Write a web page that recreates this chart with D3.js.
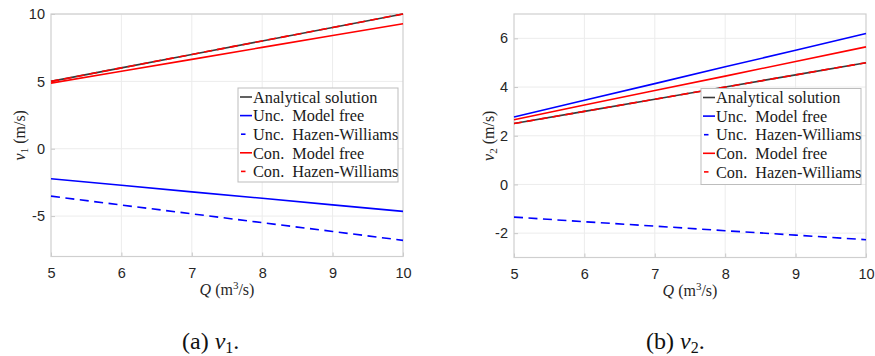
<!DOCTYPE html>
<html><head><meta charset="utf-8">
<script src="https://cdn.jsdelivr.net/npm/d3@7"></script>
<style>
html,body{margin:0;padding:0;background:#fff;}
svg{display:block;}
text{white-space:pre;}
</style></head>
<body>
<svg id="c" width="875" height="356"></svg>
<script>
// ---- data ----
const Q = [5, 6, 7, 8, 9, 10];
const seriesNames = ["Analytical solution", "Unc.  Model free", "Unc.  Hazen-Williams", "Con.  Model free", "Con.  Hazen-Williams"];
const v1Analytical   = [5, 6, 7, 8, 9, 10];
const v1UncModelFree = [-2.23, -2.71, -3.2, -3.68, -4.17, -4.65];
const v1UncHazen     = [-3.52, -4.18, -4.83, -5.49, -6.14, -6.8];
const v1ConModelFree = [4.87, 5.75, 6.63, 7.52, 8.4, 9.28];
const v1ConHazen     = [5, 6, 7, 8, 9, 10];
const v2Analytical   = [2.5, 3, 3.5, 4, 4.5, 5];
const v2UncModelFree = [2.77, 3.46, 4.14, 4.83, 5.51, 6.2];
const v2UncHazen     = [-1.34, -1.53, -1.71, -1.9, -2.08, -2.27];
const v2ConModelFree = [2.66, 3.26, 3.86, 4.45, 5.05, 5.65];
const v2ConHazen     = [2.5, 3, 3.5, 4, 4.5, 5];
const xTicks = [5, 6, 7, 8, 9, 10];
const v1Ticks = [-5, 0, 5, 10];
const v2Ticks = [-2, 0, 2, 4, 6];
const v1Domain = [-8, 10];
const v2Domain = [-3, 7];
const captions = ["(a)", "(b)"];

// ---- styles ----
const styles = [
  {color: "#3a3a3a", dash: null},
  {color: "#0000ff", dash: null},
  {color: "#0000ff", dash: "9,5.5"},
  {color: "#ff0000", dash: null},
  {color: "#ff0000", dash: "8,5"}
];

const svg = d3.select("#c");
const serif = "'Liberation Serif', 'Times New Roman', serif";
const sans = "'Liberation Sans', Arial, sans-serif";

function panel(opt) {
  const {x0, x1, y0, y1, domain, ticks, data, sub, legend, ylabX, caption, capX} = opt;
  const x = d3.scaleLinear().domain([5, 10]).range([x0, x1]);
  const y = d3.scaleLinear().domain(domain).range([y1, y0]);
  const g = svg.append("g");

  // grid
  g.append("g").selectAll("line").data(xTicks.slice(1, -1)).join("line")
    .attr("x1", d => x(d)).attr("x2", d => x(d)).attr("y1", y0).attr("y2", y1)
    .attr("stroke", "#ececec").attr("stroke-width", 1);
  g.append("g").selectAll("line").data(ticks).join("line")
    .attr("x1", x0).attr("x2", x1).attr("y1", d => y(d)).attr("y2", d => y(d))
    .attr("stroke", "#ececec").attr("stroke-width", 1);

  // axes via d3 axis
  const fmt = d => String(d);
  const xAxis = d3.axisBottom(x).tickValues(xTicks).tickFormat(fmt).tickSize(-4).tickPadding(11);
  const yAxis = d3.axisLeft(y).tickValues(ticks).tickFormat(fmt).tickSize(-4).tickPadding(6);
  const gx = g.append("g").attr("transform", `translate(0,${y1})`).call(xAxis);
  const gy = g.append("g").attr("transform", `translate(${x0},0)`).call(yAxis);
  [gx, gy].forEach(a => {
    a.select(".domain").remove();
    a.selectAll(".tick line").attr("stroke", "#c8c8c8");
    a.selectAll(".tick text").attr("fill", "#262626").style("font-family", sans).style("font-size", "14.5px");
  });
  // box
  g.append("rect").attr("x", x0).attr("y", y0).attr("width", x1 - x0).attr("height", y1 - y0)
    .attr("fill", "none").attr("stroke", "#cfcfcf").attr("stroke-width", 1.2);

  // lines
  const line = d3.line().x((d, i) => x(Q[i])).y(d => y(d));
  data.forEach((arr, k) => {
    g.append("path").datum(arr).attr("d", line)
      .attr("fill", "none").attr("stroke", styles[k].color).attr("stroke-width", 1.6)
      .attr("stroke-dasharray", styles[k].dash);
  });

  // legend
  const lg = g.append("g").attr("transform", `translate(${legend.x},${legend.y})`);
  lg.append("rect").attr("width", legend.w).attr("height", legend.h)
    .attr("fill", "#fff").attr("stroke", "#bdbdbd").attr("stroke-width", 1);
  seriesNames.forEach((name, k) => {
    const ry = 9 + k * 18.6;
    if (styles[k].dash) {
      lg.append("line").attr("x1", 3).attr("x2", 7.5).attr("y1", ry).attr("y2", ry)
        .attr("stroke", styles[k].color).attr("stroke-width", 1.6);
    } else {
      lg.append("line").attr("x1", 2).attr("x2", 14).attr("y1", ry).attr("y2", ry)
        .attr("stroke", styles[k].color).attr("stroke-width", 1.6);
    }
    lg.append("text").attr("x", 15).attr("y", ry).attr("dy", "0.35em")
      .style("font-family", serif).style("font-size", "16.3px").attr("fill", "#1a1a1a").text(name);
  });

  // x label
  const xl = g.append("text").attr("x", (x0 + x1) / 2).attr("y", y1 + 38)
    .attr("text-anchor", "middle").style("font-family", serif).style("font-size", "16px").attr("fill", "#262626");
  xl.append("tspan").style("font-style", "italic").text("Q");
  xl.append("tspan").text(" (m");
  xl.append("tspan").attr("dy", -6).style("font-size", "11px").text("3");
  xl.append("tspan").attr("dy", 6).text("/s)");

  // y label
  const yl = g.append("text").attr("transform", `translate(${ylabX},${(y0 + y1) / 2}) rotate(-90)`)
    .attr("text-anchor", "middle").style("font-family", serif).style("font-size", "16px").attr("fill", "#262626");
  yl.append("tspan").style("font-style", "italic").text("v");
  yl.append("tspan").attr("dy", 3).style("font-size", "11px").text(sub);
  yl.append("tspan").attr("dy", -3).text(" (m/s)");

  // caption
  const cp = svg.append("text").attr("x", capX).attr("y", 349).attr("text-anchor", "start")
    .style("font-family", serif).style("font-size", "24px").attr("fill", "#111");
  cp.append("tspan").text(caption + " ");
  cp.append("tspan").style("font-style", "italic").text("v");
  cp.append("tspan").attr("dy", 4).style("font-size", "16px").text(sub);
  cp.append("tspan").attr("dy", -4).text(".");
}

panel({x0: 51, x1: 403, y0: 14, y1: 256.5, domain: v1Domain, ticks: v1Ticks,
  data: [v1Analytical, v1UncModelFree, v1UncHazen, v1ConModelFree, v1ConHazen], sub: "1",
  legend: {x: 238, y: 88, w: 160, h: 94}, ylabX: 25, caption: captions[0], capX: 182});
panel({x0: 514, x1: 866, y0: 14, y1: 257.5, domain: v2Domain, ticks: v2Ticks,
  data: [v2Analytical, v2UncModelFree, v2UncHazen, v2ConModelFree, v2ConHazen], sub: "2",
  legend: {x: 701, y: 88.5, w: 160, h: 96}, ylabX: 494, caption: captions[1], capX: 646});
</script>
</body></html>
